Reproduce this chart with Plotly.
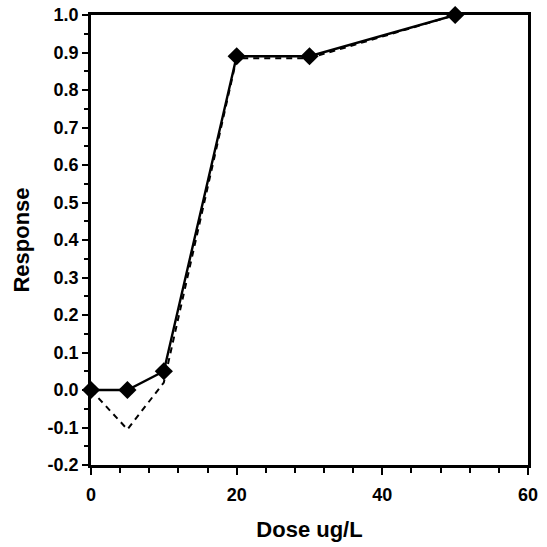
import plotly.graph_objects as go

dose = [0, 5, 10, 20, 30, 50]
response = [0.0, 0.0, 0.05, 0.89, 0.89, 1.0]
fit_dose = [0, 5, 10, 20, 30, 50]
fit_response = [0.0, -0.105, 0.02, 0.885, 0.885, 1.0]

y_tickvals = [-0.2, -0.1, 0.0, 0.1, 0.2, 0.3, 0.4, 0.5, 0.6, 0.7, 0.8, 0.9, 1.0]
y_ticktext = ["-0.2", "-0.1", "0.0", "0.1", "0.2", "0.3", "0.4", "0.5", "0.6", "0.7", "0.8", "0.9", "1.0"]
x_tickvals = [0, 20, 40, 60]
x_ticktext = ["0", "20", "40", "60"]

fig = go.Figure()
fig.add_trace(go.Scatter(x=fit_dose, y=fit_response, mode="lines",
                         line=dict(color="black", width=2, dash="6px,5px"),
                         showlegend=False))
fig.add_trace(go.Scatter(x=dose, y=response, mode="lines+markers",
                         line=dict(color="black", width=2.4),
                         marker=dict(symbol="diamond", size=14, color="black"),
                         showlegend=False, cliponaxis=False))

font = "Liberation Sans, Arial, sans-serif"
fig.update_layout(
    width=547, height=547,
    margin=dict(l=91, r=19, t=15, b=82),
    paper_bgcolor="white", plot_bgcolor="white",
    font=dict(family=font, color="black", size=18),
    xaxis=dict(range=[0, 60], tickmode="array", tickvals=x_tickvals,
               ticktext=["<b>%s</b>" % t for t in x_ticktext],
               ticks="outside", ticklen=7, tickwidth=1.8, tickcolor="black",
               ticklabelstandoff=5, automargin=False,
               minor=dict(tickmode="linear", tick0=0, dtick=4, ticks="outside",
                          ticklen=5, tickwidth=1.8, tickcolor="black"),
               showline=True, linecolor="black", linewidth=2.5, mirror=True,
               showgrid=False, zeroline=False,
               tickfont=dict(size=18, family=font),
               title=dict(text="<b>Dose ug/L</b>", font=dict(size=22, family=font), standoff=18)),
    yaxis=dict(range=[-0.2, 1.0], tickmode="array", tickvals=y_tickvals,
               ticktext=["<b>%s</b>" % t for t in y_ticktext],
               ticks="outside", ticklen=6, tickwidth=1.8, tickcolor="black",
               automargin=False,
               minor=dict(tickmode="linear", tick0=-0.2, dtick=0.05, ticks="outside",
                          ticklen=4, tickwidth=1.5, tickcolor="black"),
               showline=True, linecolor="black", linewidth=2.5, mirror=True,
               showgrid=False, zeroline=False,
               tickfont=dict(size=18, family=font),
               title=dict(text="<b>Response</b>", font=dict(size=22, family=font), standoff=12)),
)
fig.write_html("out.html")
